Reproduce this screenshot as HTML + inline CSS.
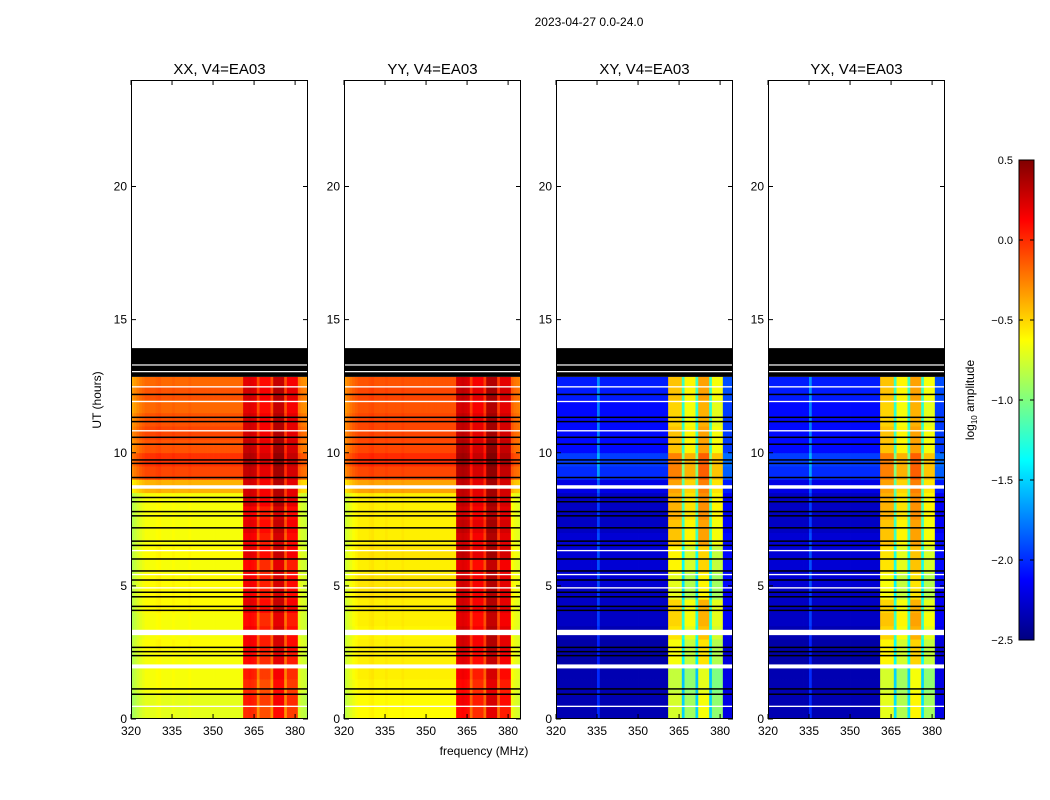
<!DOCTYPE html>
<html><head><meta charset="utf-8">
<style>
body{margin:0;background:#fff;}
svg{display:block;font-family:"Liberation Sans",sans-serif;}
</style></head>
<body>
<svg id="fig" width="1050" height="800" viewBox="0 0 1050 800">
<text x="589" y="26" font-size="12" text-anchor="middle">2023-04-27 0.0-24.0</text>
<text x="101" y="400" font-size="12" text-anchor="middle" transform="rotate(-90 101 400)">UT (hours)</text>
<text x="484" y="755" font-size="12" text-anchor="middle">frequency (MHz)</text>
<g id="panels"></g>
<defs><linearGradient id="jetg" x1="0" y1="1" x2="0" y2="0">
<stop offset="0" stop-color="#000080"/><stop offset="0.125" stop-color="#0000ff"/><stop offset="0.375" stop-color="#00ffff"/><stop offset="0.625" stop-color="#ffff00"/><stop offset="0.875" stop-color="#ff0000"/><stop offset="1" stop-color="#800000"/>
</linearGradient></defs>
<g id="cbar">
<rect x="1019" y="160" width="15" height="480" fill="url(#jetg)" stroke="#000" stroke-width="1"/>
</g>
<text x="974" y="400" font-size="12" text-anchor="middle" transform="rotate(-90 974 400)">log<tspan font-size="8" dy="3">10</tspan><tspan dy="-3"> amplitude</tspan></text>
</svg>
<script>
const NS="http://www.w3.org/2000/svg";
// ---- data ----
const panelTitles=["XX, V4=EA03","YY, V4=EA03","XY, V4=EA03","YX, V4=EA03"];
const xTicks=[320,335,350,365,380];
const yTicks=[0,5,10,15,20];
const cbTicks=[-2.5,-2.0,-1.5,-1.0,-0.5,0.0,0.5];
// time bins: 0.5 h from 0 to 13 (26 bins)
const parOffRowsXX=[-0.7,-0.7,-0.65,-0.65,-0.65,-0.62,-0.65,-0.65,-0.62,-0.62,-0.62,-0.65,-0.62,-0.65,-0.65,-0.65,-0.65,-0.4,-0.08,-0.02,-0.12,-0.08,-0.12,-0.18,-0.12,-0.18];
const parOnRowsXX=[-0.1,-0.05,-0.1,-0.05,0.0,0.05,0.05,0.0,0.1,0.05,0.05,0.0,0.1,0.05,0.1,0.05,0.15,0.15,0.2,0.25,0.2,0.15,0.15,0.1,0.15,0.1];
const parOffRowsYY=[-0.62,-0.62,-0.6,-0.58,-0.58,-0.58,-0.6,-0.58,-0.58,-0.55,-0.55,-0.58,-0.55,-0.58,-0.58,-0.58,-0.58,-0.35,-0.08,0.0,-0.08,-0.08,-0.08,-0.12,-0.08,-0.12];
const parOnRowsYY=[0.0,0.05,0.0,0.05,0.1,0.15,0.15,0.1,0.15,0.15,0.15,0.1,0.2,0.15,0.2,0.15,0.2,0.2,0.25,0.3,0.25,0.2,0.2,0.15,0.2,0.15];
const crossOffRowsXY=[-2.35,-2.35,-2.35,-2.35,-2.38,-2.38,-2.35,-2.3,-2.3,-2.3,-2.25,-2.25,-2.25,-2.25,-2.3,-2.3,-2.3,-2.2,-2.0,-1.95,-2.1,-2.1,-2.1,-2.1,-2.05,-2.05];
const crossOnRowsXY=[-0.8,-0.8,-0.85,-0.85,-0.7,-0.7,-0.6,-0.55,-0.55,-0.75,-0.75,-0.65,-0.65,-0.5,-0.5,-0.45,-0.45,-0.4,-0.3,-0.3,-0.5,-0.5,-0.55,-0.55,-0.5,-0.5];
const crossOffRowsYX=[-2.35,-2.35,-2.35,-2.35,-2.38,-2.38,-2.35,-2.3,-2.3,-2.3,-2.25,-2.25,-2.25,-2.25,-2.3,-2.3,-2.3,-2.2,-2.0,-1.95,-2.1,-2.1,-2.1,-2.1,-2.05,-2.05];
const crossOnRowsYX=[-0.75,-0.75,-0.8,-0.8,-0.65,-0.65,-0.55,-0.5,-0.55,-0.7,-0.7,-0.6,-0.6,-0.5,-0.5,-0.45,-0.45,-0.4,-0.3,-0.3,-0.5,-0.5,-0.55,-0.55,-0.5,-0.5];
// frequency bins: 1 MHz from 320 to 384
const freqs=[];for(let f=320;f<=384;f++)freqs.push(f);
const bandFlag=freqs.map(f=>(f>=361&&f<=380)?1:0);
const parColOff=[-0.2,-0.15,-0.1,-0.06,-0.03,0,0,0,0,0.02,0.03,0,0,0,0,0.02,0,0,0,0,0,0.02,0,0,0,0,0,0,0,0,0,0,0,0,0,0,0,0,0,0,0,0.1,0.1,0.12,0.1,0.08,-0.2,0.0,0.0,0.0,0.0,-0.2,0.2,0.2,0.2,0.2,-0.2,0.05,0.05,0.05,0.05,-0.05,-0.1,-0.12,-0.15];
const crossColOff=[0,0,0,0,0,0,0,0,0,0,0,0,0,0,0,0.35,0,0,0,0,0,0,0,0,0,0,0,0,0,0,0,0,0,0,0,0,0,0,0,0,0,0.05,0.05,0.05,0.05,0.05,-0.7,-0.1,-0.1,-0.1,-0.1,-0.7,0.15,0.15,0.15,0.15,-0.7,-0.15,-0.15,-0.15,-0.15,0.15,0.15,0.15,0.15];
// flagged (black) lines and gaps (white), hours
const blackLines=[12.19,11.33,11.17,10.58,10.32,9.73,9.6,9.07,8.32,8.16,7.79,7.63,7.18,6.68,6.52,6.01,5.56,5.22,4.76,4.59,4.23,4.08,2.69,2.53,2.38,1.13,0.93];
const whiteGaps=[[8.65,8.78],[3.15,3.35],[1.9,2.05],[0.45,0.5],[4.9,4.95],[5.4,5.45],[6.3,6.35],[10.8,10.85],[11.9,11.95],[12.45,12.5]];
const dataTop=12.85, flagTop=13.93;

// ---- scales ----
const panelX=[131,344,556,768], PW=177, PY0=80, PY1=719;
const pxPerMHz=2.735, pxPerHour=(PY1-PY0)/24;
const xS=(p,f)=>panelX[p]+(f-320)*pxPerMHz;
const yS=h=>PY1-h*pxPerHour;
function jet(v){let t=(v+2.5)/3;t=Math.max(0,Math.min(1,t));
 const c=x=>Math.round(255*Math.max(0,Math.min(1,1.5-Math.abs(x))));
 return `rgb(${c(4*t-3)},${c(4*t-2)},${c(4*t-1)})`;}
function mk(tag,attrs,parent){const e=document.createElementNS(NS,tag);for(const k in attrs)e.setAttribute(k,attrs[k]);parent.appendChild(e);return e;}

const rowsOff=[parOffRowsXX,parOffRowsYY,crossOffRowsXY,crossOffRowsYX];
const rowsOn=[parOnRowsXX,parOnRowsYY,crossOnRowsXY,crossOnRowsYX];
const colOffs=[parColOff,parColOff,crossColOff,crossColOff];
const G=document.getElementById('panels');
for(let p=0;p<4;p++){
 const g=mk('g',{},G);
 
 
 const cp=mk('clipPath',{id:'cp'+p},g);mk('rect',{x:panelX[p],y:PY0,width:PW,height:PY1-PY0},cp);
 const hm=mk('g',{'clip-path':`url(#cp${p})`},g);
 
 
 for(let r=0;r<rowsOff[p].length;r++){
  const h0=r*0.5,h1=Math.min(dataTop,h0+0.5);
  for(let c=0;c<freqs.length;c++){
   const v=(bandFlag[c]?rowsOn[p][r]:rowsOff[p][r])+colOffs[p][c];
   const x0=xS(p,freqs[c]),x1=xS(p,freqs[c]+1);
   const cell=mk('rect',{x:x0.toFixed(2),y:yS(h1).toFixed(2),width:(x1-x0+0.4).toFixed(2),height:(yS(h0)-yS(h1)+0.4).toFixed(2),fill:jet(v)},hm);
   
   
  }
 }
 const fb=mk('rect',{x:panelX[p],y:yS(flagTop),width:PW,height:yS(dataTop)-yS(flagTop),fill:'#000'},hm);
 
 
 [13.3,13.05].forEach(h=>mk('rect',{x:panelX[p],y:yS(h)-0.5,width:PW,height:1.2,fill:'#fff'},hm));
 blackLines.forEach(h=>{const l=mk('rect',{x:panelX[p],y:yS(h)-0.75,width:PW,height:1.5,fill:'#000'},hm);
  
  });
 whiteGaps.forEach(([a,b])=>{const l=mk('rect',{x:panelX[p],y:yS(b),width:PW,height:Math.max(1.2,yS(a)-yS(b)),fill:'#fff'},hm);
  
  });
 const fr=mk('rect',{x:panelX[p]+0.5,y:PY0+0.5,width:PW-1,height:PY1-PY0-1,fill:'none',stroke:'#000','stroke-width':1},g);
 
 
 const t=mk('text',{x:panelX[p]+PW/2,y:74,'font-size':15,'text-anchor':'middle'},g);t.textContent=panelTitles[p];
 
 
 xTicks.forEach(f=>{const x=xS(p,f);
  mk('line',{x1:x,x2:x,y1:PY1,y2:PY1-5,stroke:'#000'},g);mk('line',{x1:x,x2:x,y1:PY0,y2:PY0+5,stroke:'#000'},g);
  const tl=mk('text',{x:x,y:PY1+16,'font-size':12,'text-anchor':'middle'},g);tl.textContent=f;
  
  });
 yTicks.forEach(h=>{const y=yS(h);
  mk('line',{x1:panelX[p],x2:panelX[p]+5,y1:y,y2:y,stroke:'#000'},g);mk('line',{x1:panelX[p]+PW,x2:panelX[p]+PW-5,y1:y,y2:y,stroke:'#000'},g);
  const tl=mk('text',{x:panelX[p]-4,y:y+4,'font-size':12,'text-anchor':'end'},g);tl.textContent=h;
  
  });
}
const CB=document.getElementById('cbar');
cbTicks.forEach(v=>{const y=640-(v+2.5)/3*480;
 mk('line',{x1:1019,x2:1023,y1:y,y2:y,stroke:'#000'},CB);mk('line',{x1:1034,x2:1030,y1:y,y2:y,stroke:'#000'},CB);
 const tl=mk('text',{x:1013,y:y+4,'font-size':11,'text-anchor':'end'},CB);tl.textContent=(v.toFixed(1)).replace('-','\u2212');
 
 });
</script>
</body></html>
